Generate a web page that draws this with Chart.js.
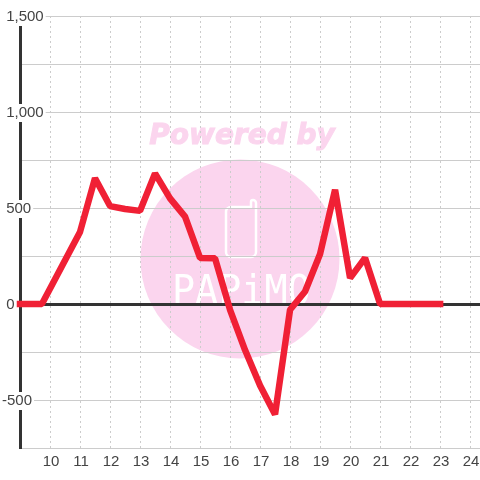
<!DOCTYPE html>
<html>
<head>
<meta charset="utf-8">
<style>
  html, body { margin: 0; padding: 0; background: #fff; }
  canvas { display: block; }
</style>
<script src="https://cdn.jsdelivr.net/npm/chart.js@4"></script>
</head>
<body>
<canvas id="graphique" width="480" height="480"></canvas>
<script>
// heures et valeurs
const heures = [9, 9.73, 11, 11.5, 12, 12.5, 13, 13.5, 14, 14.5, 15, 15.5, 16, 16.5, 17, 17.5, 18, 18.5, 19, 19.5, 20, 20.5, 21, 23];
const valeurs = [0, 0, 375, 655, 510, 495, 485, 680, 550, 455, 240, 238, -30, -240, -425, -575, -30, 65, 260, 595, 135, 240, 0, 0];
const ticks_y = [-500, 0, 500, 1000, 1500];

// filigrane dessine derriere le graphique
const filigrane = {
  id: 'filigrane',
  beforeDraw(chart) {
    const c = chart.ctx;
    c.save();
    c.fillStyle = '#fff';
    c.fillRect(0, 0, 480, 480);
    c.fillStyle = '#fbd5ee';
    c.beginPath();
    c.arc(240, 259, 99.5, 0, Math.PI * 2);
    c.fill();
    c.font = 'italic bold 28px "DejaVu Sans"';
    c.textAlign = 'center';
    c.textBaseline = 'alphabetic';
    c.strokeStyle = '#fbd5ee';
    c.lineWidth = 1;
    c.fillText('Powered by', 242, 144);
    c.strokeText('Powered by', 242, 144);
    // telephone
    c.strokeStyle = '#fff';
    c.lineWidth = 2.5;
    c.lineCap = 'round';
    c.beginPath();
    c.moveTo(251, 207);
    c.lineTo(231, 207);
    c.arcTo(226, 207, 226, 212, 5);
    c.lineTo(226, 252);
    c.arcTo(226, 257, 231, 257, 5);
    c.lineTo(251, 257);
    c.arcTo(256, 257, 256, 252, 5);
    c.lineTo(256, 203);
    c.arcTo(256, 200, 253, 200, 3);
    c.arcTo(251, 200, 251, 207, 2);
    c.lineTo(251, 207);
    c.stroke();
    // texte du logo
    c.fillStyle = '#fff';
    c.font = '40px "DejaVu Sans Mono"';
    c.textAlign = 'left';
    c.translate(172, 304);
    c.scale(0.96, 1);
    c.fillText('PAPiMO', 0, 0);
    c.restore();
  }
};

// le signe moins depasse a gauche, les autres labels sont decales d'un espace
function labelY(v) {
  if (!ticks_y.includes(v)) return '';
  return (v < 0 ? '' : ' ') + v.toLocaleString('en-US');
}

new Chart(document.getElementById('graphique'), {
  type: 'line',
  data: {
    datasets: [{
      data: heures.map((h, i) => ({ x: h, y: valeurs[i] })),
      borderColor: '#f02035',
      borderWidth: 6.5,
      borderCapStyle: 'square',
      borderJoinStyle: 'bevel',
      pointRadius: 0,
      tension: 0,
      clip: false
    }]
  },
  plugins: [filigrane],
  options: {
    responsive: false,
    animation: false,
    layout: { padding: { top: 16 } },
    plugins: { legend: { display: false }, tooltip: { enabled: false } },
    scales: {
      x: {
        type: 'linear',
        min: 9,
        max: 24.33,
        afterFit(scale) {
          scale.height = 32;
          scale.paddingLeft = 0;
          scale.paddingRight = 0;
        },
        border: { display: true, color: '#ccc', width: 1, dash: [2, 3] },
        grid: {
          color: ctx => ctx.tick && ctx.tick.value === 9 ? 'transparent' : '#ccc',
          drawTicks: false,
          lineWidth: 1
        },
        ticks: {
          stepSize: 1,
          includeBounds: false,
          maxRotation: 0,
          autoSkip: false,
          padding: 5,
          labelOffset: 1,
          color: '#444',
          font: { family: 'Liberation Sans', size: 15 },
          callback: v => v === 9 ? '' : v
        }
      },
      y: {
        min: -750,
        max: 1500,
        afterFit(scale) { scale.width = 20; },
        afterBuildTicks(scale) {
          scale.ticks = [];
          for (let v = -750; v <= 1500; v += 250) scale.ticks.push({ value: v });
        },
        border: { display: true, color: '#333', width: 3 },
        grid: {
          color: ctx => ctx.tick.value === 0 ? '#333' : '#ccc',
          lineWidth: ctx => ctx.tick.value === 0 ? 3 : 1,
          drawTicks: false
        },
        ticks: {
          mirror: true,
          padding: -18,
          labelOffset: 1,
          autoSkip: false,
          color: '#444',
          font: { family: 'Liberation Sans', size: 15 },
          showLabelBackdrop: ctx => ticks_y.includes(ctx.tick.value),
          backdropColor: '#fff',
          backdropPadding: { left: 0, right: 2, top: 0, bottom: 0 },
          callback: labelY
        }
      }
    }
  }
});
</script>
</body>
</html>
